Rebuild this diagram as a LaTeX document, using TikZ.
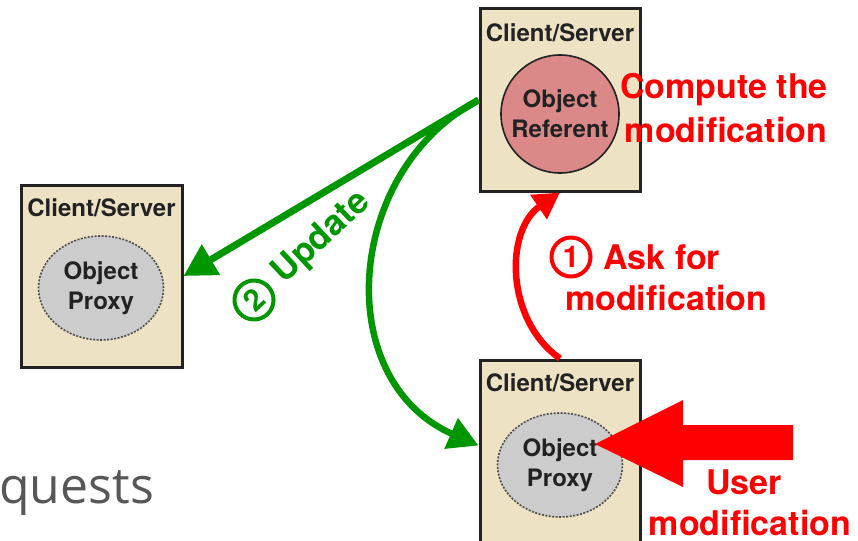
\documentclass[tikz,border=0pt]{standalone}
\usepackage{fontspec}
\setmainfont{TeX Gyre Heros}
\newfontfamily\qfont{Open Sans}
\usetikzlibrary{arrows.meta,calc,shapes.geometric,shadows}
\definecolor{boxfill}{RGB}{238,226,196}
\definecolor{reffill}{RGB}{218,136,136}
\definecolor{proxyfill}{RGB}{204,204,204}
\definecolor{grn}{RGB}{0,150,0}
\definecolor{rd}{RGB}{255,0,0}
\definecolor{ink}{RGB}{34,34,34}
\begin{document}
\begin{tikzpicture}[x=1pt,y=-1pt,
  csbox/.style={draw=ink, line width=3pt, fill=boxfill, inner sep=0pt,
    drop shadow={shadow xshift=2pt, shadow yshift=-2pt, opacity=0.35}},
  cstitle/.style={font=\fontsize{24}{24}\selectfont\bfseries, text=ink, inner sep=0pt},
  objtext/.style={font=\fontsize{24}{30}\selectfont\bfseries, text=ink, align=center},
  referent/.style={circle, draw=ink, line width=1.6pt, fill=reffill, minimum size=118pt},
  proxy/.style={ellipse, draw=black!70, line width=1.6pt, dash pattern=on 2pt off 1.5pt,
    fill=proxyfill, minimum width=125pt, minimum height=104pt},
  redlbl/.style={font=\fontsize{34}{40}\selectfont\bfseries, text=rd, inner sep=0pt},
  grnlbl/.style={font=\fontsize{35}{40}\selectfont\bfseries, text=grn, inner sep=0pt},
  numcirc/.style={circle, line width=4pt, minimum size=39pt, inner sep=0pt,
    font=\fontsize{30}{30}\selectfont\bfseries},
  grnarrow/.style={draw=grn, line width=7pt, -{Triangle[length=32pt,width=34pt]}},
  grncurve/.style={draw=grn, line width=6.5pt, -{Triangle[length=30pt,width=32pt]}},
  redcurve/.style={draw=rd, line width=6.5pt, -{Triangle[length=26pt,width=28pt]}}
]
\useasboundingbox (0,0) rectangle (858,540);

% boxes
\node[csbox, minimum width=160pt, minimum height=182pt] (refbox) at (560,100) {};
\node[csbox, minimum width=161pt, minimum height=182pt] (leftbox) at (101.5,276) {};
\node[csbox, minimum width=160pt, minimum height=260pt] (botbox) at (560,490) {};

\node[cstitle] (reftitle) at (560,33) {Client/Server};
\node[cstitle] (lefttitle) at (101.5,208) {Client/Server};
\node[cstitle] (bottitle) at (560,383) {Client/Server};

\node[referent, objtext] (refobj) at (560,114) {Object\\Referent};
\node[proxy, objtext] (leftobj) at (101,288) {Object\\Proxy};
\node[proxy, objtext] (botobj) at (560,465) {Object\\Proxy};

% green arrows
\coordinate (botin) at ($(botbox.north west)+(0,87)$);
\draw[grnarrow] (refbox.west) -- (leftbox.east);
\draw[grncurve] (refbox.west) .. controls (345,170) and (330,380) .. (botin);

% red curved arrow
\draw[redcurve] (botbox.north) .. controls (505,320) and (505,230) .. (refbox.south);

% big red arrow
\coordinate (utip) at (595,444);
\fill[rd] (utip) -- ($(utip)+(88,-44)$) -- ($(utip)+(88,-19)$) -- ($(utip)+(198,-19)$)
  -- ($(utip)+(198,16)$) -- ($(utip)+(88,16)$) -- ($(utip)+(88,43)$) -- cycle;

% labels
\node[redlbl] (comp1) at (724,90) {Compute the};
\node[redlbl] (comp2) at (726,130) {modification};

\node[numcirc, draw=rd, text=rd] (one) at (571,257) {1};
\node[redlbl, anchor=west] (ask1) at (603,257) {Ask for};
\node[redlbl, anchor=west] (ask2) at (565,298) {modification};

\node[numcirc, draw=grn, text=grn, rotate=43] (two) at (254,300) {2};
\node[grnlbl, rotate=43] (upd) at (322,238) {Update};

\node[redlbl] (user1) at (744,482) {User};
\node[redlbl] (user2) at (750,523) {modification};

\node[font=\qfont\fontsize{50}{50}\selectfont, text=black!66, anchor=base west, inner sep=0pt] (quests) at (-1,503) {quests};
\end{tikzpicture}
\end{document}
